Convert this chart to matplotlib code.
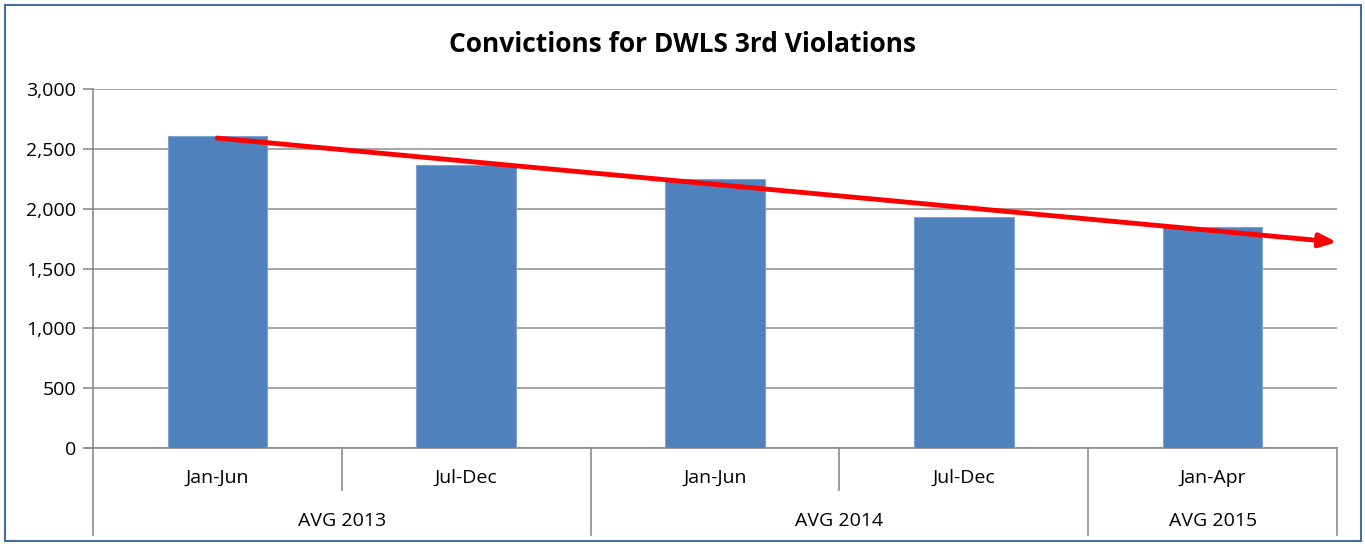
import matplotlib.pyplot as plt
from matplotlib.patches import Rectangle

# chart data
periods = ['Jan-Jun', 'Jul-Dec', 'Jan-Jun', 'Jul-Dec', 'Jan-Apr']
groups = ['AVG 2013', 'AVG 2014', 'AVG 2015']
group_sizes = [2, 2, 1]
convictions = [2607, 2365, 2250, 1930, 1848]
yticks = [0, 500, 1000, 1500, 2000, 2500, 3000]
# hand drawn trend arrow (x in category units, y in convictions)
trend_x = [0, 4.5]
trend_y = [2590, 1720]

plt.rcParams['font.family'] = ['Open Sans', 'DejaVu Sans']

fig = plt.figure(figsize=(13.65, 5.46), dpi=100)
ax = fig.add_axes([93 / 1365, 1 - 448 / 546, (1337 - 93) / 1365, (448 - 89) / 546])

x = list(range(len(periods)))
ax.bar(x, convictions, width=0.4, color='#4f81bd', edgecolor='#7fa3cf', linewidth=0.8, zorder=3)

ax.set_xlim(-0.5, len(periods) - 0.5)
ax.set_ylim(0, 3000)
ax.set_yticks(yticks)
ax.set_yticklabels(['{:,}'.format(v) for v in yticks], fontsize=14)
ax.yaxis.grid(True, color='#959595', linewidth=1.2, zorder=0)
ax.tick_params(axis='y', length=7, color='#8c8c8c', width=1.2, pad=5)
ax.set_xticks([])
for s in ['top', 'right']:
    ax.spines[s].set_visible(False)
ax.spines['left'].set_color('#8c8c8c')
ax.spines['left'].set_linewidth(1.2)
ax.spines['bottom'].set_color('#8c8c8c')
ax.spines['bottom'].set_linewidth(1.2)

# multi level category axis
tr = ax.get_xaxis_transform()
inner_y = -42 / 359
outer_y = -87 / 359
for i, p in enumerate(periods):
    ax.text(i, -30 / 359, p, transform=tr, ha='center', va='center', fontsize=14)
start = 0
bounds = [0]
for g, n in zip(groups, group_sizes):
    centre = start + (n - 1) / 2
    ax.text(centre, -73 / 359, g, transform=tr, ha='center', va='center', fontsize=14)
    for k in range(1, n):
        ax.plot([start + k - 0.5] * 2, [0, inner_y], transform=tr, color='#8c8c8c',
                linewidth=1.2, clip_on=False)
    start += n
    bounds.append(start)
for b in bounds:
    ax.plot([b - 0.5] * 2, [0, outer_y], transform=tr, color='#8c8c8c',
            linewidth=1.2, clip_on=False)
ax.plot([-0.5 - 0.032, -0.5], [0, 0], transform=tr, color='#8c8c8c', linewidth=1.2, clip_on=False)

ax.annotate('', xy=(trend_x[1], trend_y[1]), xytext=(trend_x[0], trend_y[0]),
            arrowprops=dict(arrowstyle='-|>,head_length=1.0,head_width=0.4',
                            color='#ff0000', lw=3.5, shrinkA=0, shrinkB=0),
            annotation_clip=False, zorder=5)

fig.text(0.5, 1 - 44 / 546, 'Convictions for DWLS 3rd Violations', ha='center', va='center',
         fontsize=19, fontweight='bold')

fig.patches.append(Rectangle((5 / 1365, 5 / 546), 1356 / 1365, 536 / 546, transform=fig.transFigure,
                             fill=False, edgecolor='#4a6e9c', linewidth=1.5))

fig.savefig('out.png', dpi=100)
